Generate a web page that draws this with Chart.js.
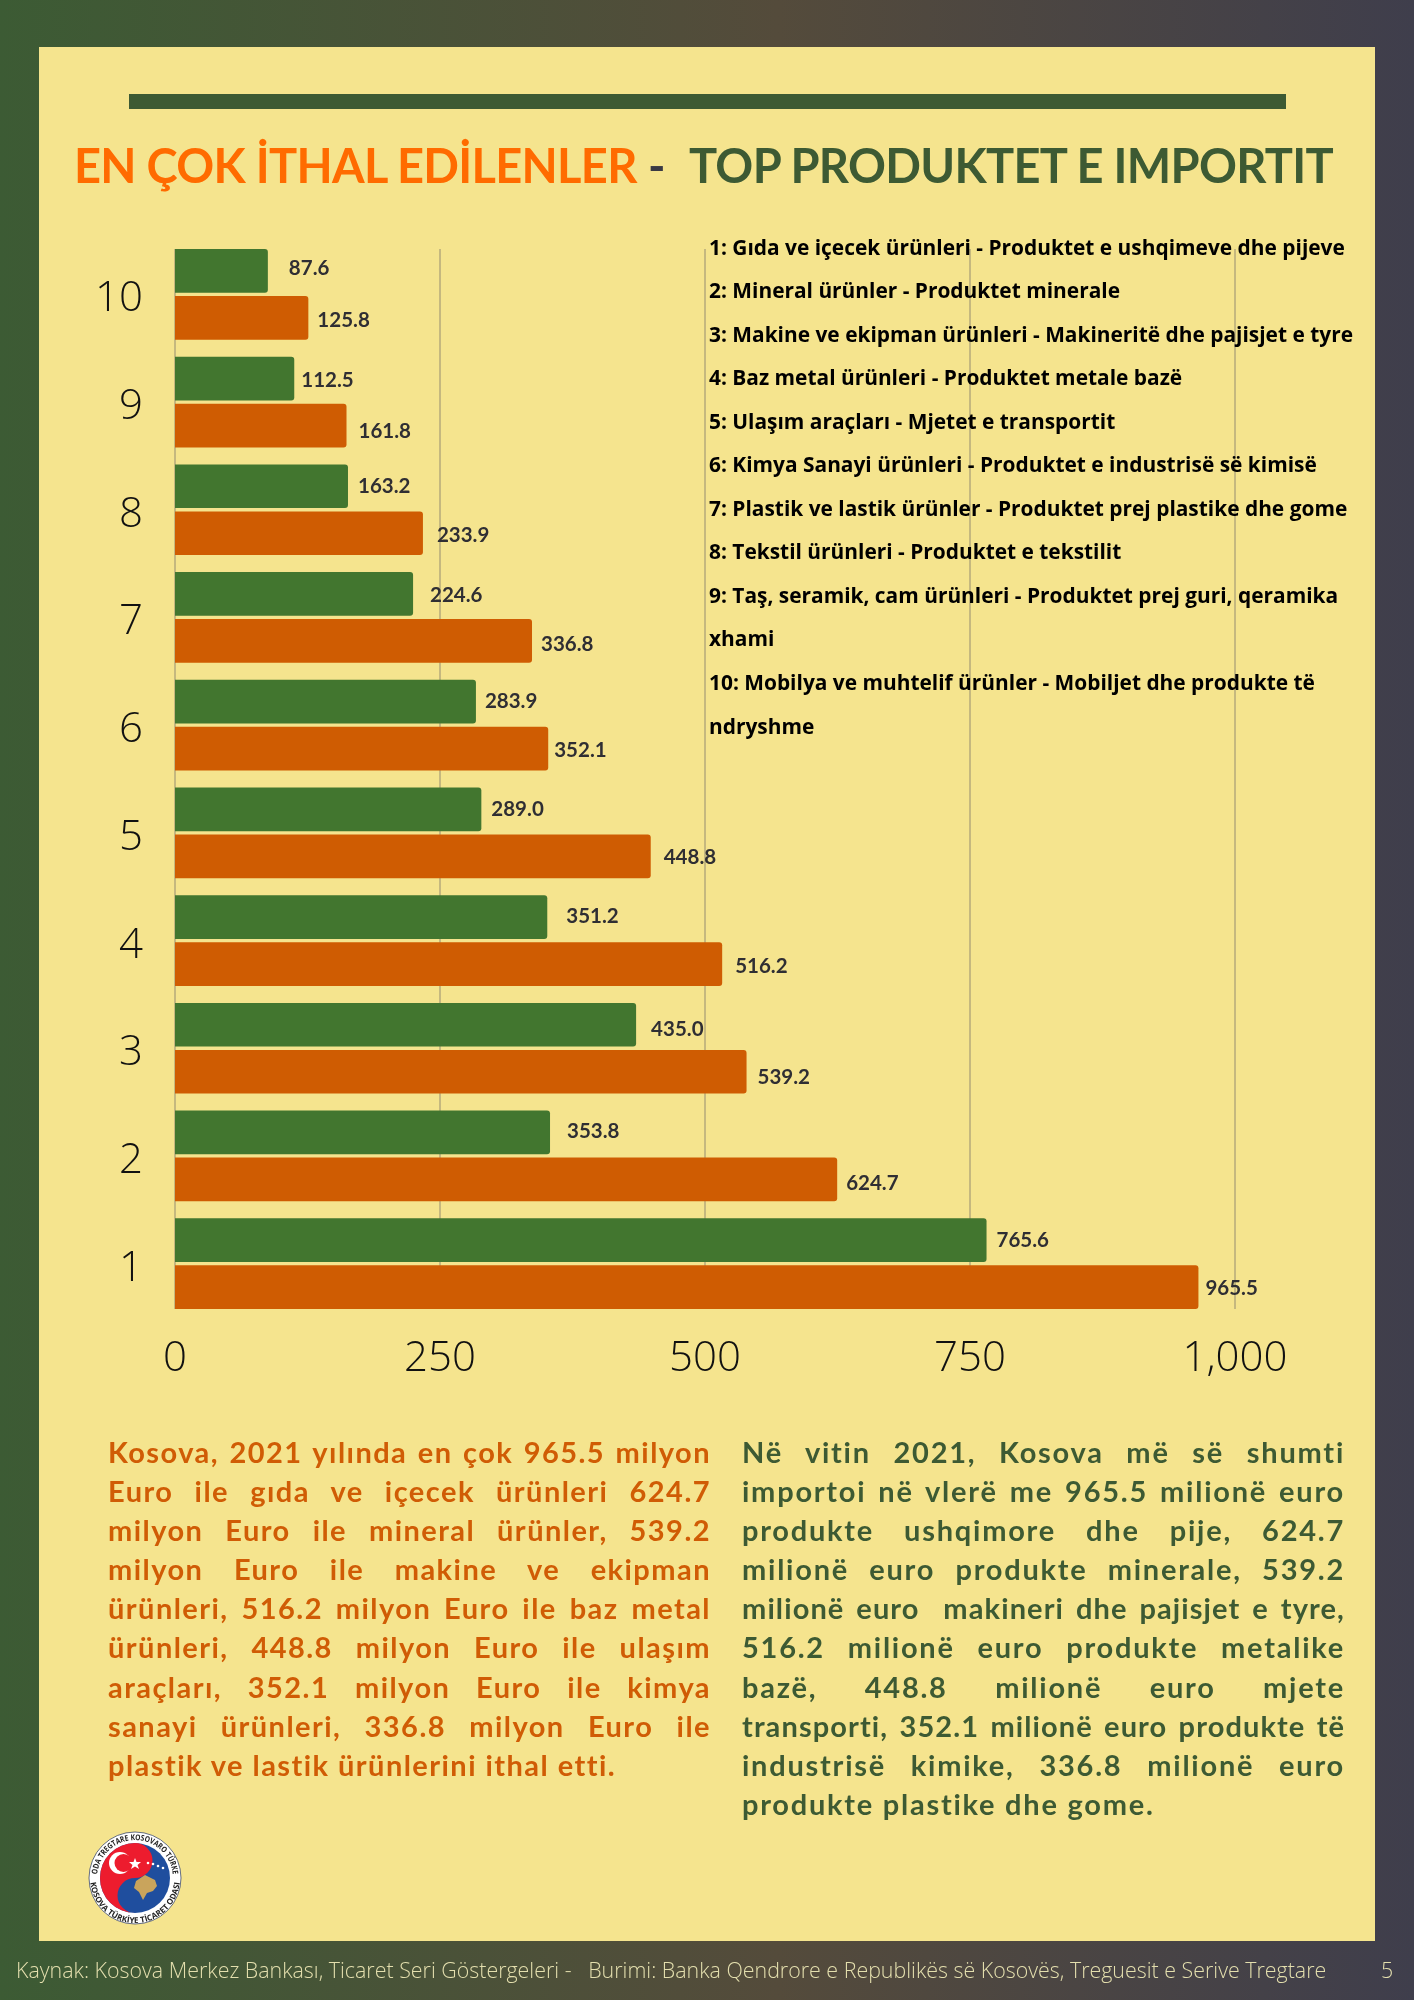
<!DOCTYPE html>
<html>
<head>
<meta charset="utf-8">
<title>Top Produktet e Importit</title>
<script src="https://cdn.jsdelivr.net/npm/chart.js@4"></script>
<style>
  html, body { margin: 0; padding: 0; }
  body { width: 1414px; height: 2000px; position: relative; overflow: hidden;
    background: linear-gradient(90deg, #3c5b34 0%, #544b3b 55%, #3f3e4c 100%); }
  #panel { position: absolute; left: 39px; top: 47px; width: 1336px; height: 1894px; background: #f5e48e; }
  #rule { position: absolute; left: 129px; top: 94px; width: 1157px; height: 15px; background: #3d5a33; }
  #chart { position: absolute; left: 0; top: 0; }
  .title { position: absolute; top: 135px; font: 700 47px Lato; letter-spacing: -0.7px; white-space: nowrap; line-height: 60px; }
  #legend { position: absolute; left: 709px; top: 225.5px; width: 660px; font: 700 20.9px/43.55px "Open Sans"; color: #000; }
  #legend div { white-space: nowrap; }
  .para { position: absolute; top: 1432px; font: 700 29px/39.1px Lato; }
  .para div { text-align: justify; text-align-last: justify; white-space: pre-wrap; }
  .para div:last-child { text-align-last: left; }
  #paraTr { left: 108px; width: 603px; color: #d05c05; letter-spacing: 1.45px; }
  #paraSq { left: 742px; width: 603px; color: #3d5a33; letter-spacing: 1.75px; }
  #paraSq div:nth-child(5), #paraSq div:nth-child(8) { letter-spacing: 1.1px; }
  #source { position: absolute; left: 16px; top: 1955px; font: 300 21.4px/30px "Open Sans"; color: #e4dfae; white-space: pre; }
  #page { position: absolute; left: 1381px; top: 1955px; font: 300 21.4px/30px "Open Sans"; color: #e4dfae; }
  #logo { position: absolute; left: 84px; top: 1827px; }
</style>
</head>
<body>
<div id="panel"></div>
<div id="rule"></div>
<canvas id="chart" width="1414" height="2000"></canvas>
<div class="title" style="left:74px;color:#ff6b00">EN ÇOK İTHAL EDİLENLER</div>
<div class="title" style="left:648px;color:#3a3a44">-</div>
<div class="title" style="left:689px;color:#3d5a33">TOP PRODUKTET E IMPORTIT</div>

<div id="legend"></div>
<div class="para" id="paraTr"></div>
<div class="para" id="paraSq"></div>

<svg id="logo" width="100" height="100" viewBox="84 1827 100 100">
  <defs>
    <path id="arcTop" d="M97,1878 A38,38 0 0 1 173,1878"/>
    <path id="arcBottom" d="M90,1878 A45,45 0 0 0 180,1878"/>
  </defs>
  <circle cx="135" cy="1878" r="46" fill="#fff" stroke="#3d4a6b" stroke-width="0.8"/>
  <circle cx="135" cy="1878" r="35" fill="#1f4e9e"/>
  <path d="M135,1843 A17.5,17.5 0 0 1 135,1878 A17.5,17.5 0 0 0 135,1913 A35,35 0 0 1 135,1843 Z" fill="#ed1c2e"/>
  <circle cx="120" cy="1863" r="11" fill="#fff"/>
  <circle cx="123.5" cy="1863" r="9" fill="#ed1c2e"/>
  <polygon points="135,1858 136.5,1862 141,1862 137.5,1865 139,1869 135,1866.5 131,1869 132.5,1865 129,1862 133.5,1862" fill="#fff"/>
  <g fill="#fff"><circle cx="148" cy="1863" r="1.3"/><circle cx="153" cy="1864" r="1.3"/><circle cx="158" cy="1866" r="1.3"/><circle cx="163" cy="1868" r="1.3"/></g>
  <polygon points="136,1881 145,1875 155,1880 157,1886 153,1891 147,1893 143,1900 139,1892 134,1888" fill="#c9a45c"/>
  <text font-family="Open Sans" font-weight="700" font-size="8" fill="#222"><textPath href="#arcTop" startOffset="50%" text-anchor="middle" textLength="112" lengthAdjust="spacingAndGlyphs">ODA TREGTARE KOSOVARO TÜRKE</textPath></text>
  <text font-family="Open Sans" font-weight="700" font-size="8" fill="#222"><textPath href="#arcBottom" startOffset="50%" text-anchor="middle" textLength="132" lengthAdjust="spacingAndGlyphs">KOSOVA TÜRKİYE TİCARET ODASI</textPath></text>
</svg>

<div id="source">Kaynak: Kosova Merkez Bankası, Ticaret Seri Göstergeleri -   Burimi: Banka Qendrore e Republikës së Kosovës, Treguesit e Serive Tregtare</div>
<div id="page">5</div>

<script>
const categories = ['10', '9', '8', '7', '6', '5', '4', '3', '2', '1'];
const greenValues = [87.6, 112.5, 163.2, 224.6, 283.9, 289.0, 351.2, 435.0, 353.8, 765.6];
const orangeValues = [125.8, 161.8, 233.9, 336.8, 352.1, 448.8, 516.2, 539.2, 624.7, 965.5];
const legendLines = [
  '1: Gıda ve içecek ürünleri - Produktet e ushqimeve dhe pijeve',
  '2: Mineral ürünler - Produktet minerale',
  '3: Makine ve ekipman ürünleri - Makineritë dhe pajisjet e tyre',
  '4: Baz metal ürünleri - Produktet metale bazë',
  '5: Ulaşım araçları - Mjetet e transportit',
  '6: Kimya Sanayi ürünleri - Produktet e industrisë së kimisë',
  '7: Plastik ve lastik ürünler - Produktet prej plastike dhe gome',
  '8: Tekstil ürünleri - Produktet e tekstilit',
  '9: Taş, seramik, cam ürünleri - Produktet prej guri, qeramika',
  'xhami',
  '10: Mobilya ve muhtelif ürünler - Mobiljet dhe produkte të',
  'ndryshme',
];
const paraTr = [
  'Kosova, 2021 yılında en çok 965.5 milyon',
  'Euro ile gıda ve içecek ürünleri 624.7',
  'milyon Euro ile mineral ürünler, 539.2',
  'milyon Euro ile makine ve ekipman',
  'ürünleri, 516.2 milyon Euro ile baz metal',
  'ürünleri, 448.8 milyon Euro ile ulaşım',
  'araçları, 352.1 milyon Euro ile kimya',
  'sanayi ürünleri, 336.8 milyon Euro ile',
  'plastik ve lastik ürünlerini ithal etti.',
];
const paraSq = [
  'Në vitin 2021, Kosova më së shumti',
  'importoi në vlerë me 965.5 milionë euro',
  'produkte ushqimore dhe pije, 624.7',
  'milionë euro produkte minerale, 539.2',
  'milionë euro  makineri dhe pajisjet e tyre,',
  '516.2 milionë euro produkte metalike',
  'bazë, 448.8 milionë euro mjete',
  'transporti, 352.1 milionë euro produkte të',
  'industrisë kimike, 336.8 milionë euro',
  'produkte plastike dhe gome.',
];

// the value labels were placed by hand in the original, so each one has its own nudge
const nudgeX = [
  [21, 7, 10, 17, 9, 10, 19, 15, 17, 10],
  [9, 12, 14, 9, 6, 13, 13, 11, 9, 7],
];
const nudgeY = [
  [-2, 2, 0, 1, 0, 0, -1, 5, -1, 0],
  [3, 6, 2, 3, 2, 1, 2, 6, 4, 1],
];

const fillLines = (id, lines) => {
  document.getElementById(id).innerHTML = lines.map((l) => '<div>' + l + '</div>').join('');
};
fillLines('legend', legendLines);
fillLines('paraTr', paraTr);
fillLines('paraSq', paraSq);

// grid only runs from the top of the first bar to the bottom of the last one
const trimmedGrid = {
  id: 'trimmedGrid',
  beforeDatasetsDraw(chart) {
    const { ctx, scales: { x } } = chart;
    const first = chart.getDatasetMeta(0).data[0];
    const last = chart.getDatasetMeta(1).data[categories.length - 1];
    const top = first.y - first.height / 2;
    const bottom = last.y + last.height / 2;
    ctx.save();
    ctx.strokeStyle = '#b5aa7a';
    ctx.lineWidth = 1.5;
    x.ticks.forEach((t) => {
      const px = x.getPixelForValue(t.value);
      ctx.beginPath();
      ctx.moveTo(px, top);
      ctx.lineTo(px, bottom);
      ctx.stroke();
    });
    ctx.restore();
  },
};

const valueLabels = {
  id: 'valueLabels',
  afterDatasetsDraw(chart) {
    const { ctx } = chart;
    ctx.save();
    ctx.font = '700 20.5px Lato';
    ctx.fillStyle = '#2f2e33';
    ctx.textBaseline = 'middle';
    chart.data.datasets.forEach((ds, d) => {
      chart.getDatasetMeta(d).data.forEach((bar, i) => {
        ctx.fillText(ds.data[i].toFixed(1), bar.x + nudgeX[d][i], bar.y + nudgeY[d][i]);
      });
    });
    ctx.restore();
  },
};

const barStyle = {
  categoryPercentage: 0.873,
  barPercentage: 0.93,
  borderRadius: { topRight: 3, bottomRight: 3, topLeft: 0, bottomLeft: 0 },
  borderSkipped: false,
};

new Chart(document.getElementById('chart'), {
  type: 'bar',
  data: {
    labels: categories,
    datasets: [
      { label: 'Green', data: greenValues, backgroundColor: '#42762f', ...barStyle },
      { label: 'Orange', data: orangeValues, backgroundColor: '#cf5c02', ...barStyle },
    ],
  },
  options: {
    indexAxis: 'y',
    responsive: false,
    animation: false,
    layout: { padding: { top: 240.5, right: 179, bottom: 0, left: 0 } },
    plugins: { legend: { display: false }, tooltip: { enabled: false } },
    scales: {
      x: {
        min: 0,
        max: 1000,
        afterFit: (s) => { s.height = 682.5; },
        grid: { display: false, drawTicks: false },
        border: { display: false },
        ticks: {
          stepSize: 250,
          maxRotation: 0,
          padding: 16,
          color: '#111',
          font: { family: 'Open Sans', weight: 300, size: 42 },
          callback: (v) => v.toLocaleString('en-US'),
        },
      },
      y: {
        afterFit: (s) => { s.width = 175; },
        grid: { display: false, drawTicks: false },
        border: { display: false },
        ticks: {
          padding: 32,
          labelOffset: 5,
          color: '#111',
          font: { family: 'Open Sans', weight: 300, size: 42 },
        },
      },
    },
  },
  plugins: [trimmedGrid, valueLabels],
});
</script>
</body>
</html>
